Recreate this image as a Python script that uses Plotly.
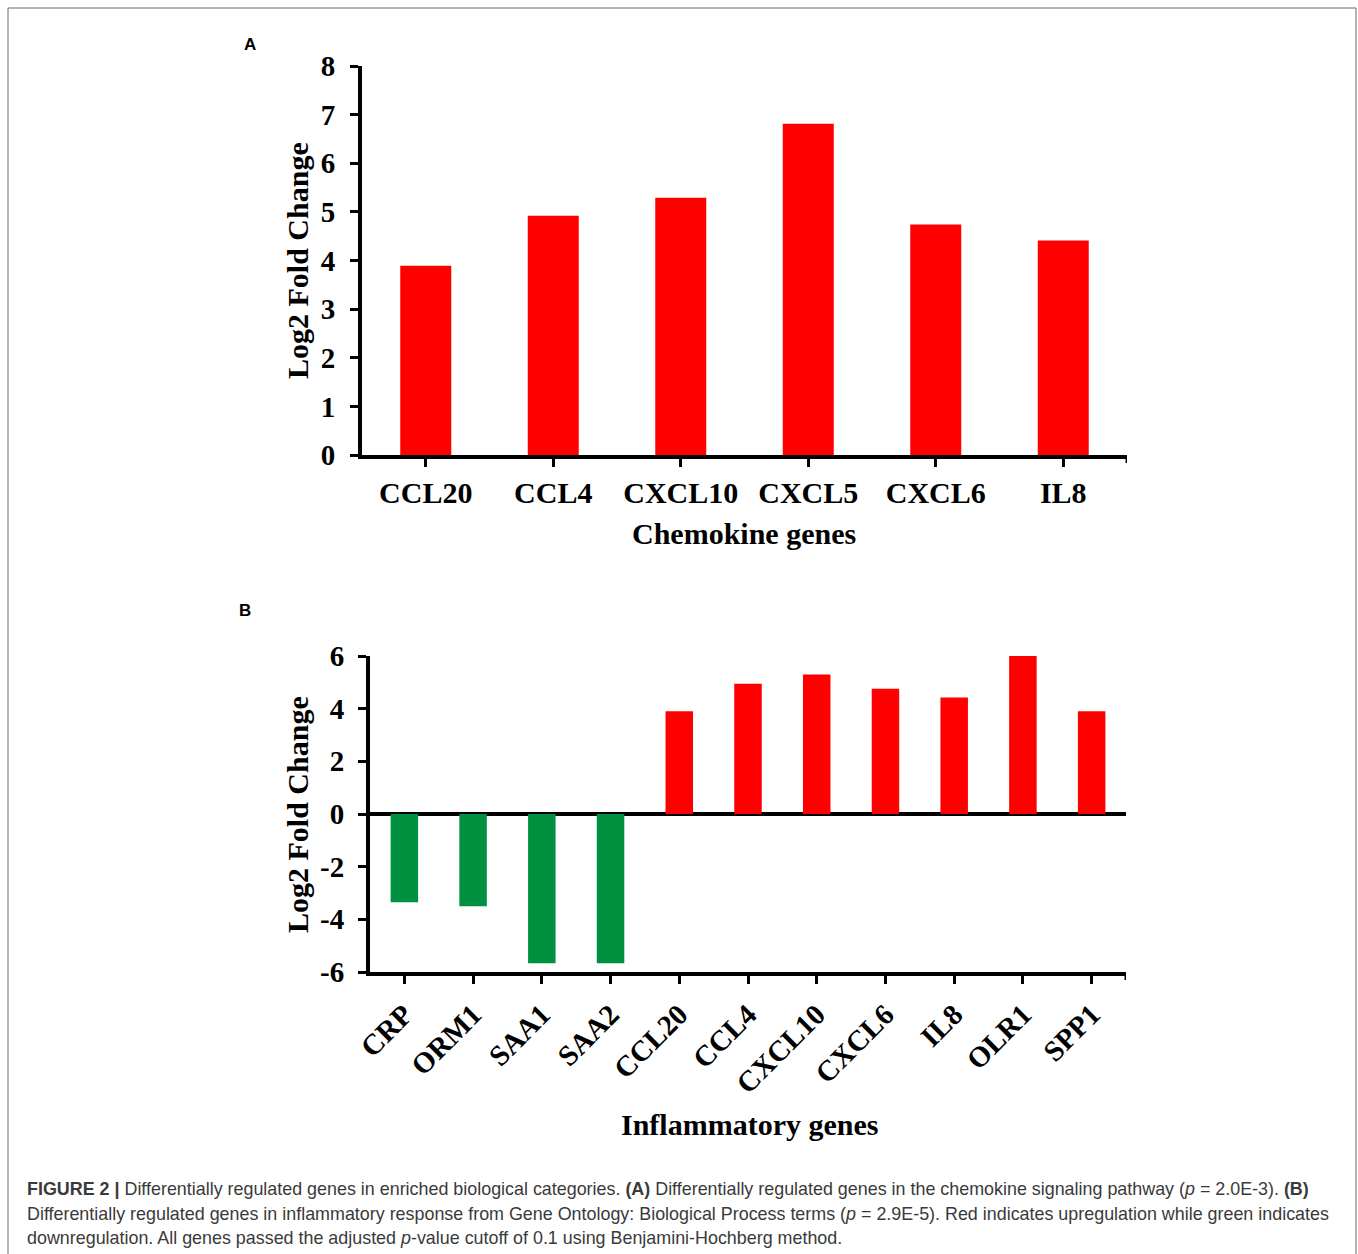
import plotly.graph_objects as go

W, H = 1358, 1254

# ---- data ----
chemokine_genes = ["CCL20", "CCL4", "CXCL10", "CXCL5", "CXCL6", "IL8"]
chemokine_lfc = [3.89, 4.92, 5.29, 6.81, 4.74, 4.41]

inflam_genes = ["CRP", "ORM1", "SAA1", "SAA2", "CCL20", "CCL4", "CXCL10",
                "CXCL6", "IL8", "OLR1", "SPP1"]
inflam_lfc = [-3.35, -3.5, -5.67, -5.67, 3.9, 4.95, 5.3, 4.76, 4.42, 6.02, 3.9]

a_yticks = [0, 1, 2, 3, 4, 5, 6, 7, 8]
b_yticks = [-6, -4, -2, 0, 2, 4, 6]
b_yticklabels = ["-6", "-4", "-2", "0", "2", "4", "6"]

RED = "#FF0000"
GREEN = "#009140"
inflam_colors = [RED if v > 0 else GREEN for v in inflam_lfc]


def px_x(p):
    return p / W


def px_y(p):
    return 1 - p / H


SERIF = "Liberation Serif"

fig = go.Figure()
fig.add_trace(go.Bar(x=chemokine_genes, y=chemokine_lfc, marker_color=RED,
                     marker_line_width=0, width=0.4, xaxis="x", yaxis="y",
                     showlegend=False))
fig.add_trace(go.Bar(x=inflam_genes, y=inflam_lfc, marker_color=inflam_colors,
                     marker_line_width=0, width=0.4, xaxis="x2", yaxis="y2",
                     showlegend=False))

def tf(size):
    return dict(family=SERIF, size=size, color="black", weight="bold")

axis_common = dict(showgrid=False, showline=True, linecolor="black", linewidth=4,
                   ticks="outside", tickcolor="black", tickwidth=3, ticklen=8,
                   fixedrange=True, automargin=False, zeroline=False)

fig.update_layout(
    template="none",
    width=W, height=H, autosize=False,
    margin=dict(l=0, r=0, t=0, b=0, pad=0),
    paper_bgcolor="white", plot_bgcolor="white",
    font=dict(family=SERIF, color="black"),
    xaxis=dict(domain=[px_x(362), px_x(1127)], anchor="y", type="category",
               range=[-0.5, 5.5], ticklabelstandoff=0, tickfont=tf(30),
               **axis_common),
    yaxis=dict(domain=[px_y(455), px_y(66)], anchor="x", range=[0, 8],
               tickvals=a_yticks, ticklabelstandoff=9, tickfont=tf(29),
               **axis_common),
    xaxis2=dict(domain=[px_x(370), px_x(1126)], anchor="y2", type="category",
                range=[-0.5, 10.5], tickangle=-45, ticklabelstandoff=2,
                tickfont=tf(29), **axis_common),
    yaxis2=dict(domain=[px_y(972), px_y(656)], anchor="x2", range=[-6, 6],
                tickvals=b_yticks, ticktext=b_yticklabels, ticklabelstandoff=8,
                tickfont=tf(29), **axis_common),
)
fig.update_layout(yaxis2=dict(zeroline=True, zerolinecolor="black", zerolinewidth=4))

# end ticks at right end of category axes
fig.add_shape(type="line", xref="x", yref="paper", x0=5.5, x1=5.5,
              y0=px_y(455), y1=px_y(463), line=dict(color="black", width=3))
fig.add_shape(type="line", xref="x2", yref="paper", x0=10.5, x1=10.5,
              y0=px_y(972), y1=px_y(980), line=dict(color="black", width=3))

# frame
fig.add_shape(type="rect", xref="paper", yref="paper",
              x0=px_x(8), x1=px_x(1356), y0=px_y(1262), y1=px_y(8),
              line=dict(color="#6b6b6b", width=1), layer="below")

title_font = dict(family=SERIF, size=30, color="black")
ann = []
ann.append(dict(text="<b>Log2 Fold Change</b>", x=px_x(297), y=px_y(261),
                textangle=-90, font=title_font))
ann.append(dict(text="<b>Chemokine genes</b>", x=px_x(744), y=px_y(533),
                font=title_font))
ann.append(dict(text="<b>Log2 Fold Change</b>", x=px_x(297), y=px_y(815),
                textangle=-90, font=title_font))
ann.append(dict(text="<b>Inflammatory genes</b>", x=px_x(749), y=px_y(1124),
                font=title_font))
ann.append(dict(text="<b>A</b>", x=px_x(250), y=px_y(44),
                font=dict(family="Liberation Sans", size=17, color="black")))
ann.append(dict(text="<b>B</b>", x=px_x(245), y=px_y(610),
                font=dict(family="Liberation Sans", size=17, color="black")))
for a in ann:
    a.update(xref="paper", yref="paper", showarrow=False,
             xanchor="center", yanchor="middle")

cap_font = dict(family="Liberation Sans", size=17.9, color="#3a3a3a")
cap_lines = [
    "<b>FIGURE 2 |</b> Differentially regulated genes in enriched biological categories. "
    "<b>(A)</b> Differentially regulated genes in the chemokine signaling pathway "
    "(<i>p</i> = 2.0E-3). <b>(B)</b>",
    "Differentially regulated genes in inflammatory response from Gene Ontology: "
    "Biological Process terms (<i>p</i> = 2.9E-5). Red indicates upregulation while "
    "green indicates",
    "downregulation. All genes passed the adjusted <i>p</i>-value cutoff of 0.1 using "
    "Benjamini-Hochberg method.",
]
for line, yc in zip(cap_lines, [1189, 1214, 1238]):
    ann.append(dict(text=line, x=px_x(25), y=px_y(yc), xref="paper", yref="paper",
                    xanchor="left", yanchor="middle", showarrow=False,
                    font=cap_font, align="left"))

fig.update_layout(annotations=ann)

fig.write_html("out.html",
               config={"displayModeBar": False},
               post_script="document.body.style.margin='0';"
                           "document.body.style.overflow='hidden';")
